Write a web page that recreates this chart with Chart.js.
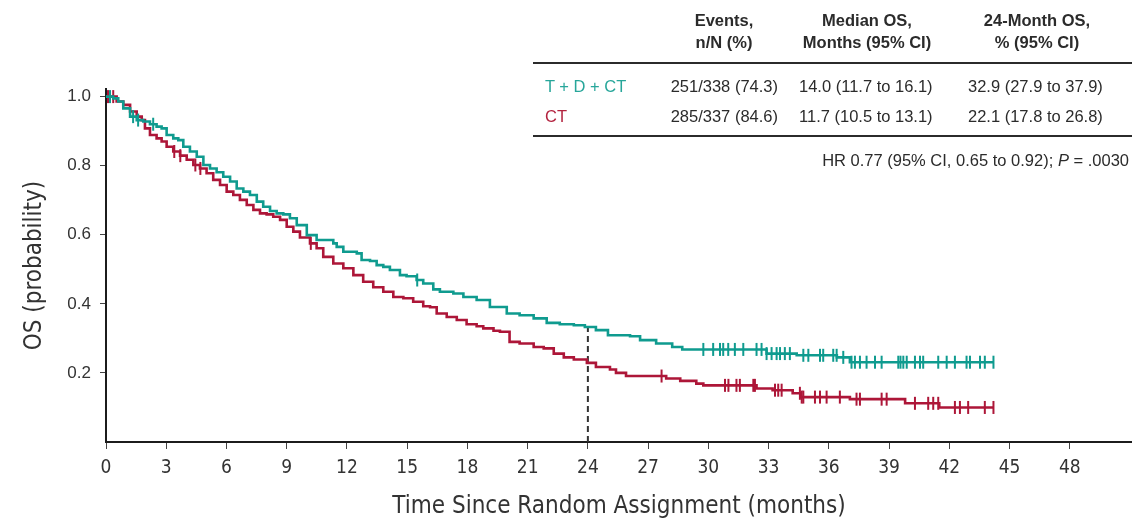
<!DOCTYPE html>
<html>
<head>
<meta charset="utf-8">
<script src="https://cdn.jsdelivr.net/npm/chart.js@4"></script>
<style>
  html, body { margin: 0; padding: 0; background: #fff; }
  #wrap { position: relative; width: 1132px; height: 519px; overflow: hidden; }
  #km { position: absolute; left: 0; top: 0; }
  .t { position: absolute; font-family: "Liberation Sans", Arial, sans-serif; font-size: 16.5px;
       color: #2b2b2b; line-height: 18px; white-space: nowrap; }
  .h { font-weight: bold; text-align: center; width: 220px; }
  .r { text-align: right; }
  .rule { position: absolute; left: 533px; width: 599px; height: 2px; background: #2b2b2b; }
</style>
</head>
<body>
<div id="wrap">
  <canvas id="km" width="1132" height="519"></canvas>
  <div id="table"></div>
</div>
<script>
// Kaplan-Meier steps (months, probability)
const tdTimes = [0, 0.36, 0.61, 0.86, 1.2, 1.53, 1.86, 2.19, 2.52, 2.77, 3.02, 3.35, 3.6, 3.85, 4.18, 4.52,
  4.85, 5.18, 5.51, 5.84, 6.18, 6.51, 6.84, 7.17, 7.51, 7.83, 8.17, 8.5, 8.83, 9.16, 9.5, 10.0, 10.49,
  11.32, 11.49, 11.82, 12.49, 12.73, 13.15, 13.48, 13.81, 14.14, 14.64, 14.97, 15.47, 15.8, 16.3, 16.63,
  17.3, 17.8, 18.46, 19.12, 19.96, 20.6, 21.3, 21.95, 22.6, 23.3, 23.85, 24.4, 25.0, 26.1, 26.6, 27.4,
  28.2, 28.7, 32.9, 34.4, 36.4, 37.05, 44.2];
const tdSurv = [1.0, 0.995, 0.986, 0.966, 0.942, 0.932, 0.928, 0.92, 0.913, 0.908, 0.889, 0.879, 0.874,
  0.855, 0.841, 0.826, 0.802, 0.792, 0.781, 0.768, 0.754, 0.734, 0.725, 0.715, 0.696, 0.681, 0.669, 0.662,
  0.659, 0.648, 0.628, 0.599, 0.585, 0.575, 0.565, 0.551, 0.546, 0.527, 0.524, 0.512, 0.507, 0.498, 0.483,
  0.48, 0.469, 0.459, 0.442, 0.435, 0.43, 0.42, 0.411, 0.391, 0.372, 0.367, 0.358, 0.345, 0.341, 0.338,
  0.333, 0.324, 0.309, 0.306, 0.295, 0.285, 0.275, 0.268, 0.256, 0.251, 0.245, 0.231, 0.231];
const tdCensor = [0.2, 1.35, 1.6, 2.35, 15.5, 29.75, 30.24, 30.58, 30.74, 30.99, 31.32, 31.74, 32.4, 32.65,
  32.9, 33.15, 33.4, 33.57, 33.81, 34.06, 34.73, 34.98, 35.56, 35.72, 36.22, 36.39, 36.72, 37.13, 37.3,
  37.55, 37.88, 38.3, 38.63, 39.46, 39.57, 39.71, 39.88, 40.29, 40.54, 40.7, 41.45, 41.87, 42.28, 42.86,
  43.03, 43.53, 43.77, 44.2];

const ctTimes = [0, 0.53, 0.86, 1.2, 1.53, 1.78, 1.94, 2.19, 2.52, 2.77, 3.02, 3.35, 3.69, 4.02, 4.35, 4.68,
  5.01, 5.34, 5.68, 6.01, 6.34, 6.67, 7.01, 7.34, 7.67, 8.0, 8.33, 8.67, 9.0, 9.33, 9.66, 10.16, 10.49,
  10.82, 11.32, 11.82, 12.32, 12.81, 13.31, 13.81, 14.31, 14.81, 15.3, 15.8, 16.14, 16.47, 16.97, 17.47,
  17.96, 18.46, 18.79, 19.3, 19.62, 20.1, 20.6, 21.3, 21.8, 22.3, 22.8, 23.3, 23.95, 24.4, 25.1, 25.4,
  25.9, 27.9, 28.6, 29.4, 29.75, 32.4, 33.2, 34.2, 34.6, 37.05, 39.8, 41.5, 44.2];
const ctSurv = [1.0, 0.986, 0.976, 0.957, 0.942, 0.932, 0.908, 0.889, 0.879, 0.87, 0.855, 0.841, 0.829,
  0.817, 0.802, 0.792, 0.778, 0.759, 0.744, 0.725, 0.715, 0.701, 0.686, 0.672, 0.662, 0.659, 0.652, 0.643,
  0.623, 0.609, 0.592, 0.575, 0.561, 0.536, 0.517, 0.503, 0.483, 0.464, 0.448, 0.435, 0.42, 0.416, 0.406,
  0.393, 0.39, 0.372, 0.362, 0.353, 0.341, 0.335, 0.329, 0.322, 0.319, 0.29, 0.285, 0.275, 0.271, 0.256,
  0.245, 0.239, 0.229, 0.217, 0.21, 0.2, 0.191, 0.184, 0.177, 0.169, 0.164, 0.155, 0.15, 0.141, 0.13,
  0.124, 0.112, 0.1, 0.1];
const ctCensor = [0.1, 0.36, 3.4, 3.7, 4.45, 4.7, 10.2, 27.67, 30.83, 31.0, 31.4, 31.57, 32.24, 32.32,
  33.32, 33.48, 33.65, 34.56, 34.65, 34.73, 35.31, 35.56, 35.89, 36.55, 37.38, 37.55, 38.63, 38.88, 40.29,
  40.95, 41.2, 41.45, 42.28, 42.53, 42.94, 43.77, 44.2];

const landmark = 24;
const xTicks = [0, 3, 6, 9, 12, 15, 18, 21, 24, 27, 30, 33, 36, 39, 42, 45, 48];
const yTicks = [0.2, 0.4, 0.6, 0.8, 1.0];

// table
const tableHeads = [["Events,", "n/N (%)"], ["Median OS,", "Months (95% CI)"], ["24-Month OS,", "% (95% CI)"]];
const armLabels = ["T + D + CT", "CT"];
const eventsCol = ["251/338 (74.3)", "285/337 (84.6)"];
const medianCol = ["14.0 (11.7 to 16.1)", "11.7 (10.5 to 13.1)"];
const os24Col = ["32.9 (27.9 to 37.9)", "22.1 (17.8 to 26.8)"];
const hrText = 'HR 0.77 (95% CI, 0.65 to 0.92); <i>P</i> = .0030';

const TEAL = "#0f9b8f";
const RED = "#ad1638";
const armColors = ["#27a69a", "#b3233f"];
const narrow = "'DejaVu Sans Condensed', 'Liberation Sans Narrow', sans-serif";
const regular = "'Liberation Sans', Arial, sans-serif";

const survAt = (times, surv, t) => {
  let s = surv[0];
  for (let i = 0; i < times.length && times[i] <= t; i++) s = surv[i];
  return s;
};
const steps = (times, surv) => times.map((t, i) => ({ x: t, y: surv[i] }));
const marks = (cens, times, surv) => cens.map((t) => ({ x: t, y: survAt(times, surv, t) }));

const censorStyle = (color) => ({
  type: "line",
  showLine: false,
  pointStyle: "line",
  pointRotation: 90,
  pointRadius: 6.5,
  pointBorderWidth: 2,
  pointBorderColor: color,
  borderColor: color,
  clip: false,
});

new Chart(document.getElementById("km"), {
  type: "line",
  data: {
    datasets: [
      { ...censorStyle(TEAL), data: marks(tdCensor, tdTimes, tdSurv), order: 0 },
      { data: steps(tdTimes, tdSurv), borderColor: TEAL, borderWidth: 2.6, stepped: true, pointRadius: 0, order: 1 },
      { ...censorStyle(RED), data: marks(ctCensor, ctTimes, ctSurv), order: 2 },
      { data: steps(ctTimes, ctSurv), borderColor: RED, borderWidth: 2.6, stepped: true, pointRadius: 0, order: 3 },
      {
        data: [{ x: landmark, y: 0 }, { x: landmark, y: survAt(tdTimes, tdSurv, landmark) }],
        borderColor: "#333", borderWidth: 2, borderDash: [6, 4], pointRadius: 0, order: 4,
      },
    ],
  },
  options: {
    responsive: false,
    animation: false,
    devicePixelRatio: 1,
    // no auto padding for the censor marks, so the x axis reaches the right edge
    layout: { autoPadding: false, padding: { top: 89, right: 0, bottom: 0, left: 0 } },
    plugins: { legend: { display: false }, tooltip: { enabled: false } },
    scales: {
      x: {
        type: "linear",
        min: 0,
        max: 51.1,
        afterBuildTicks: (s) => { s.ticks = xTicks.map((v) => ({ value: v })); },
        afterFit: (s) => { s.height = 77; },
        border: { display: true, color: "#1c1c1c", width: 2 },
        grid: { drawOnChartArea: false, drawTicks: true, tickLength: 7, color: "#444" },
        ticks: { color: "#333", font: { family: narrow, size: 19 }, padding: 8, maxRotation: 0, autoSkip: false },
        title: {
          display: true,
          text: "Time Since Random Assignment (months)",
          color: "#333",
          font: { family: narrow, size: 24, lineHeight: 1 },
          padding: 0,
        },
      },
      y: {
        min: 0,
        max: 1.022,
        afterBuildTicks: (s) => { s.ticks = yTicks.map((v) => ({ value: v })); },
        afterFit: (s) => { s.width = 106; },
        border: { display: true, color: "#1c1c1c", width: 2 },
        grid: { drawOnChartArea: false, drawTicks: true, tickLength: 6, color: "#444" },
        ticks: { color: "#333", font: { family: regular, size: 17 }, padding: 9, callback: (v) => v.toFixed(1) },
        title: {
          display: true,
          text: "OS (probability)",
          color: "#333",
          font: { family: narrow, size: 24, lineHeight: 1 },
          padding: { top: 23, bottom: 0 },
        },
      },
    },
  },
});

// Table at the top right
const tbl = document.getElementById("table");
const add = (html, cls, style) => {
  const d = document.createElement("div");
  d.className = "t " + cls;
  d.innerHTML = html;
  Object.assign(d.style, style);
  tbl.appendChild(d);
};
const headX = [724, 867, 1037];
tableHeads.forEach((lines, i) => {
  add(lines[0], "h", { left: headX[i] - 110 + "px", top: "11px" });
  add(lines[1], "h", { left: headX[i] - 110 + "px", top: "33px" });
});
[62, 135].forEach((y) => {
  const r = document.createElement("div");
  r.className = "rule";
  r.style.top = y + "px";
  tbl.appendChild(r);
});
const rowY = [77, 107];
armLabels.forEach((lab, i) => {
  add(lab, "", { left: "545px", top: rowY[i] + "px", color: armColors[i] });
  add(eventsCol[i], "r", { right: 1132 - 778 + "px", top: rowY[i] + "px" });
  add(medianCol[i], "", { left: "799px", top: rowY[i] + "px" });
  add(os24Col[i], "", { left: "968px", top: rowY[i] + "px" });
});
add(hrText, "r", { right: "3px", top: "151px" });
</script>
</body>
</html>
